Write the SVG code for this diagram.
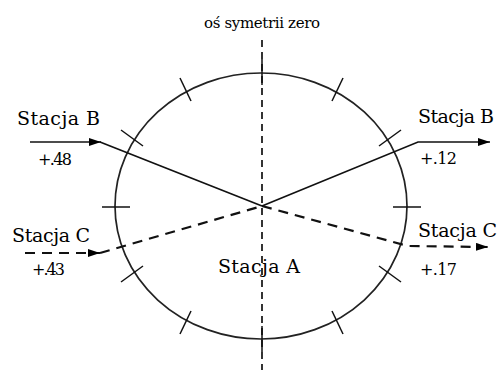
<svg xmlns="http://www.w3.org/2000/svg" width="499" height="372" viewBox="0 0 499 372">
<defs>
<marker id="arr" markerWidth="12" markerHeight="8" refX="12" refY="4" orient="auto" markerUnits="userSpaceOnUse">
<path d="M0,0 L12,4 L0,8 Z" fill="#000"/>
</marker>
<style>
text{font-family:'DejaVu Serif','Liberation Serif',serif;fill:#000}
.lbl{font-size:19px}
.num{font-size:16px}
.ln{fill:none;stroke:#111;stroke-width:1.7}
.dash{stroke-dasharray:10 7;stroke-width:2.2}
.axis{fill:none;stroke:#111;stroke-width:1.7;stroke-dasharray:7 5}
.tick{stroke:#111;stroke-width:1.5}
</style>
</defs>
<rect width="499" height="372" fill="#fff"/>
<g id="axis">
<line class="axis" x1="262" y1="40" x2="262" y2="370"/>
<text x="262" y="28" font-size="15" text-anchor="middle" textLength="116">oś symetrii zero</text>
</g>
<g id="circle">
<ellipse cx="261" cy="206" rx="146" ry="133" fill="none" stroke="#222" stroke-width="1.7"/>
<g class="tick">
<line x1="262" y1="59" x2="262" y2="85"/>
<line x1="343" y1="78" x2="332" y2="101"/>
<line x1="401" y1="130" x2="379" y2="146"/>
<line x1="393" y1="207" x2="421" y2="207"/>
<line x1="401" y1="282" x2="379" y2="266"/>
<line x1="343" y1="334" x2="332" y2="311"/>
<line x1="262" y1="326" x2="262" y2="352"/>
<line x1="180" y1="334" x2="191" y2="311"/>
<line x1="121" y1="282" x2="143" y2="266"/>
<line x1="102" y1="207" x2="130" y2="207"/>
<line x1="121" y1="130" x2="143" y2="146"/>
<line x1="180" y1="78" x2="191" y2="101"/>
</g>
</g>
<g id="connectors">
<line class="ln" x1="30" y1="142" x2="101" y2="142" marker-end="url(#arr)"/>
<line class="ln" x1="100" y1="142" x2="262" y2="206"/>
<polyline class="ln" points="262,206 418,142 490,142" marker-end="url(#arr)"/>
<line class="ln dash" x1="25" y1="253" x2="100" y2="253" marker-end="url(#arr)"/>
<line class="ln dash" x1="100" y1="253" x2="262" y2="206"/>
<polyline class="ln dash" points="262,206 408,246 488,247" marker-end="url(#arr)"/>
</g>
<g id="stacjaA">
<text class="lbl" x="218" y="273" textLength="82" lengthAdjust="spacing">Stacja A</text>
</g>
<g id="stacjaB-in">
<text class="lbl" x="17" y="125" textLength="83" lengthAdjust="spacing">Stacja B</text>
<text class="num" x="38" y="165" textLength="34" lengthAdjust="spacing">+.48</text>
</g>
<g id="stacjaB-out">
<text class="lbl" x="418" y="123" textLength="76" lengthAdjust="spacing">Stacja B</text>
<text class="num" x="420" y="164" textLength="37" lengthAdjust="spacing">+.12</text>
</g>
<g id="stacjaC-in">
<text class="lbl" x="12" y="242" textLength="78" lengthAdjust="spacing">Stacja C</text>
<text class="num" x="32" y="275" textLength="33" lengthAdjust="spacing">+.43</text>
</g>
<g id="stacjaC-out">
<text class="lbl" x="418" y="237" textLength="79" lengthAdjust="spacing">Stacja C</text>
<text class="num" x="420" y="275" textLength="37" lengthAdjust="spacing">+.17</text>
</g>
</svg>
